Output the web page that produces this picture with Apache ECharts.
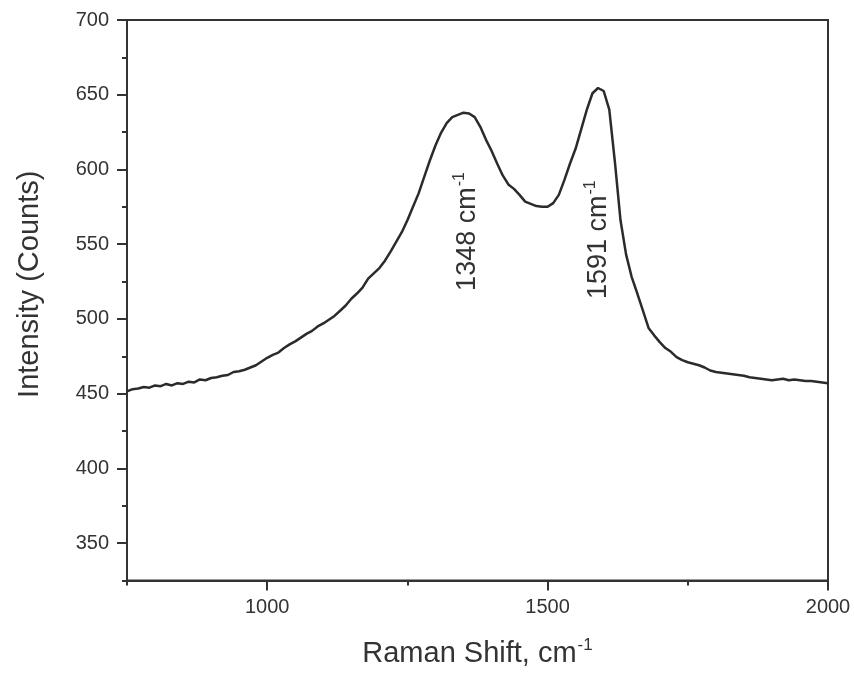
<!DOCTYPE html>
<html>
<head>
<meta charset="utf-8">
<script src="https://cdn.jsdelivr.net/npm/echarts@6/dist/echarts.min.js"></script>
<style>
  html, body { margin: 0; padding: 0; background: #fff; }
  #chart { width: 854px; height: 673px; }
</style>
</head>
<body>
<div id="chart"></div>
<script>
// Raman spectrum: shift (cm^-1) and intensity (counts)
const ramanShift = [
  750, 760, 770, 780, 790, 800, 810, 820, 830, 840,
  850, 860, 870, 880, 890, 900, 910, 920, 930, 940,
  950, 960, 970, 980, 990, 1000, 1010, 1020, 1030, 1040,
  1050, 1060, 1070, 1080, 1090, 1100, 1110, 1120, 1130, 1140,
  1150, 1160, 1170, 1180, 1190, 1200, 1210, 1220, 1230, 1240,
  1250, 1260, 1270, 1280, 1290, 1300, 1310, 1320, 1330, 1340,
  1350, 1360, 1370, 1380, 1390, 1400, 1410, 1420, 1430, 1440,
  1450, 1460, 1470, 1480, 1490, 1500, 1510, 1520, 1530, 1540,
  1550, 1560, 1570, 1580, 1590, 1600, 1610, 1620, 1630, 1640,
  1650, 1660, 1670, 1680, 1690, 1700, 1710, 1720, 1730, 1740,
  1750, 1760, 1770, 1780, 1790, 1800, 1810, 1820, 1830, 1840,
  1850, 1860, 1870, 1880, 1890, 1900, 1910, 1920, 1930, 1940,
  1950, 1960, 1970, 1980, 1990, 2000
];
const intensity = [
  451.5, 453, 453.5, 454.5, 454, 455.5, 455, 456.5, 455.5, 457,
  456.5, 458, 457.5, 459.5, 459, 460.5, 461, 462, 462.5, 464.5,
  465, 466, 467.5, 469, 471.5, 474, 476, 477.5, 480.5, 483,
  485, 487.5, 490, 492, 495, 497, 499.5, 502, 505.5, 509,
  513.5, 517, 521, 527, 530.5, 534, 539, 545, 551.5, 558,
  566, 575, 584, 595, 606, 616, 624.5, 631, 635, 636.5,
  638, 637.5, 635, 628.5, 620, 612.5, 604, 596, 590, 587,
  583, 578.5, 577, 575.5, 575, 575, 577.5, 583, 593, 604,
  614, 627, 640, 651, 654.5, 652.5, 640, 605, 566, 543,
  528, 517, 505.5, 494, 489, 484.5, 480.5, 478, 474.5, 472.5,
  471, 470, 469, 467.5, 465.5, 464.5, 464, 463.5, 463, 462.5,
  462, 461, 460.5, 460, 459.5, 459, 459.5, 460, 459, 459.5,
  459, 458.5, 458.5, 458, 457.5, 457
];

// Band positions annotated on the plot
const peakPositions = [1348, 1591];

// Axis ticks
const xMajorTicks = [1000, 1500, 2000];
const yMajorTicks = [350, 400, 450, 500, 550, 600, 650, 700];

const ink = '#333';
const font = 'Liberation Sans, Arial, sans-serif';
const seriesData = ramanShift.map((x, i) => [x, intensity[i]]);
const peakLabelY = [558.5, 553];
const peakLabelShift = [[0, 5], [0, 0]];

const chart = echarts.init(document.getElementById('chart'), null, { renderer: 'canvas' });

const baseText = { fontFamily: font, color: ink };
const supRich = {
  m: { fontSize: 27, fontFamily: font, color: ink },
  s: { fontSize: 16, fontFamily: font, color: ink, padding: [0, 0, 16, 1] }
};
const titleRich = {
  m: { fontSize: 29, fontFamily: font, color: ink },
  s: { fontSize: 17, fontFamily: font, color: ink, padding: [0, 0, 17, 1] }
};

chart.setOption({
  animation: false,
  backgroundColor: '#fff',
  grid: {
    left: 127, right: 26, top: 20, bottom: 91,
    show: true, borderColor: ink, borderWidth: 2, backgroundColor: 'transparent'
  },
  xAxis: [
    {
      type: 'value', min: 750, max: 2000, interval: 250,
      axisLine: { show: true, onZero: false, lineStyle: { color: ink, width: 2 } },
      axisTick: { show: true, length: 10, customValues: xMajorTicks, lineStyle: { color: ink, width: 2 } },
      axisLabel: { customValues: xMajorTicks, fontSize: 20, margin: 17, formatter: v => String(v), ...baseText },
      splitLine: { show: false },
      name: '{m|Raman Shift, cm}{s|-1}',
      nameLocation: 'middle',
      nameGap: 56,
      nameTextStyle: { ...baseText, rich: titleRich }
    },
    {
      type: 'value', min: 750, max: 2000, interval: 250, position: 'bottom',
      axisLine: { show: false },
      axisTick: { show: true, length: 5, lineStyle: { color: ink, width: 2 } },
      axisLabel: { show: false },
      splitLine: { show: false }
    }
  ],
  yAxis: [
    {
      type: 'value', min: 325, max: 700, interval: 25,
      axisLine: { show: true, onZero: false, lineStyle: { color: ink, width: 2 } },
      axisTick: { show: true, length: 10, customValues: yMajorTicks, lineStyle: { color: ink, width: 2 } },
      axisLabel: { customValues: yMajorTicks, fontSize: 20, margin: 18, formatter: v => String(v), ...baseText },
      splitLine: { show: false },
      name: 'Intensity (Counts)',
      nameLocation: 'middle',
      nameGap: 83,
      nameTextStyle: { ...baseText, fontSize: 29, padding: [0, 0, 0, 32] }
    },
    {
      type: 'value', min: 325, max: 700, interval: 25, position: 'left',
      axisLine: { show: false },
      axisTick: { show: true, length: 5, lineStyle: { color: ink, width: 2 } },
      axisLabel: { show: false },
      splitLine: { show: false }
    }
  ],
  series: [
    {
      type: 'line',
      xAxisIndex: 0, yAxisIndex: 0,
      data: seriesData,
      showSymbol: false,
      symbol: 'none',
      lineStyle: { color: '#2b2b2b', width: 2.5 },
      markPoint: {
        symbol: 'circle',
        symbolSize: 0,
        silent: true,
        data: peakPositions.map((p, i) => ({
          coord: [p, peakLabelY[i]],
          label: {
            show: true,
            position: 'inside',
            rotate: 90,
            offset: peakLabelShift[i],
            formatter: '{m|' + p + ' cm}{s|-1}',
            rich: supRich
          }
        }))
      }
    }
  ]
});
</script>
</body>
</html>
